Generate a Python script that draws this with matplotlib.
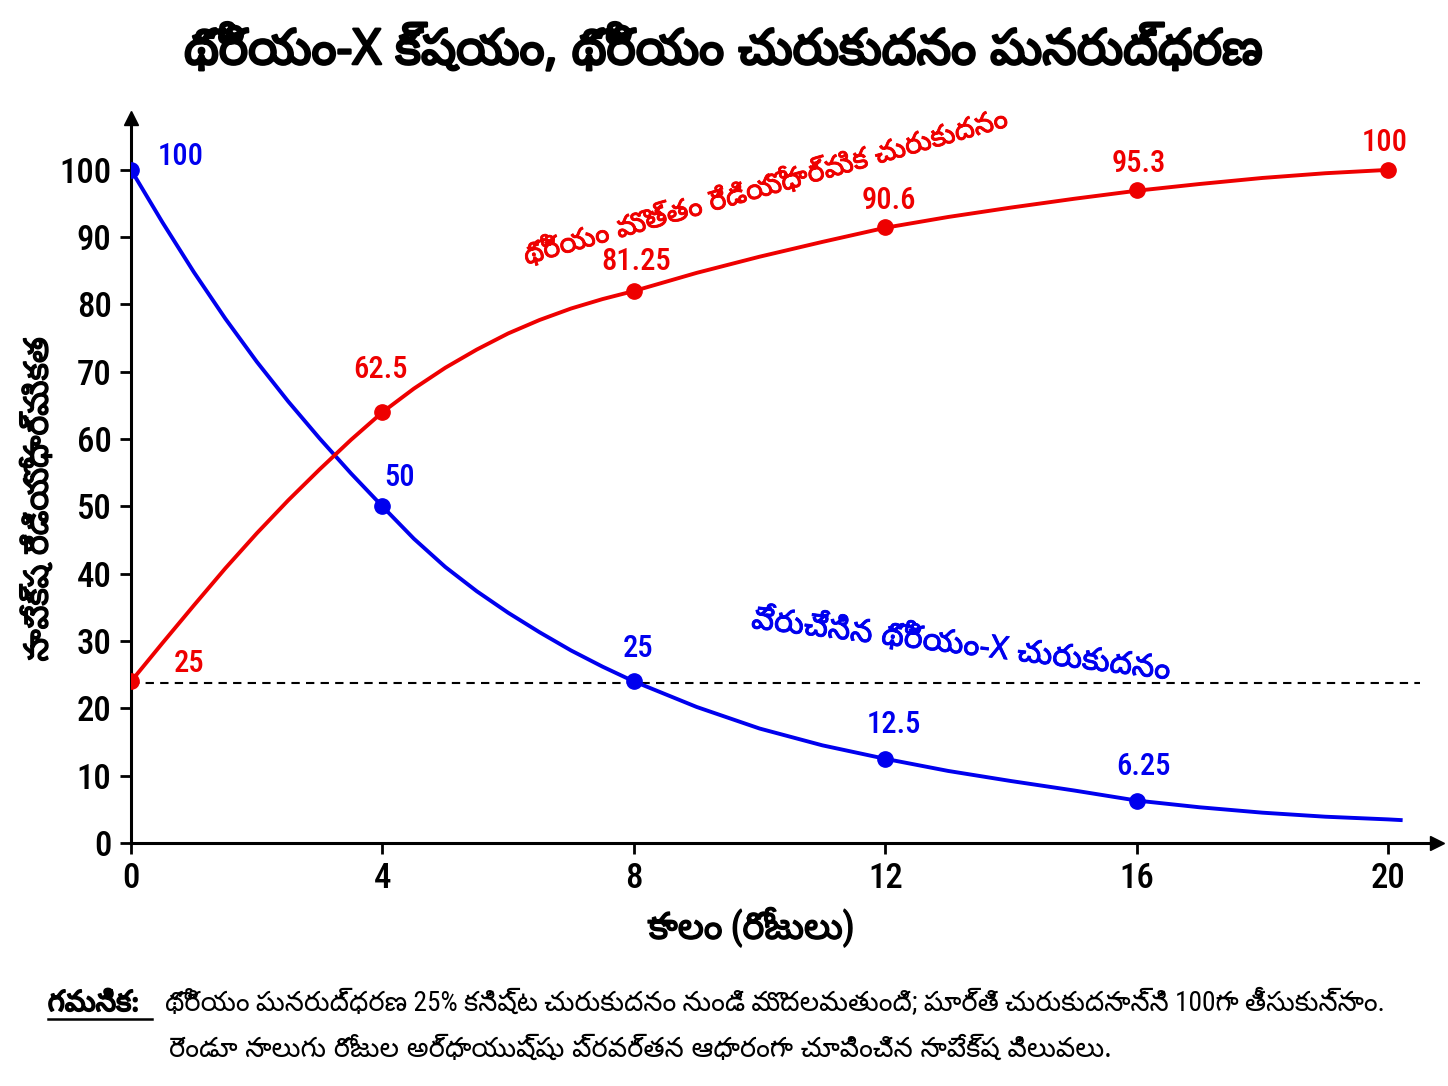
import matplotlib
matplotlib.use("Agg")
import matplotlib.pyplot as plt
import matplotlib.patheffects as pe
from matplotlib import font_manager

# data
days = [0, 4, 8, 12, 16, 20]
thx_marks = [100, 50, 24, 12.5, 6.3]          # blue markers (day 0..16)
thx_labels = ["100", "50", "25", "12.5", "6.25"]
th_marks = [24, 64, 82, 91.5, 97, 100]        # red markers
th_labels = ["25", "62.5", "81.25", "90.6", "95.3", "100"]

# curves: half-day readings to day 8, then daily
curve_days = [0, 0.5, 1, 1.5, 2, 2.5, 3, 3.5, 4, 4.5, 5, 5.5, 6, 6.5, 7, 7.5, 8,
              9, 10, 11, 12, 13, 14, 15, 16, 17, 18, 19, 20]
thx_curve = [100, 92.2, 84.8, 77.9, 71.5, 65.6, 60.1, 54.9, 50, 45.2, 41, 37.4,
             34.2, 31.3, 28.6, 26.2, 24, 20.2, 17, 14.5, 12.5, 10.7, 9.2, 7.8,
             6.3, 5.3, 4.5, 3.9, 3.5]
th_curve = [24, 29.7, 35.3, 40.8, 46, 50.9, 55.5, 59.9, 64, 67.5, 70.6, 73.3,
            75.7, 77.7, 79.4, 80.8, 82, 84.7, 87.1, 89.3, 91.4, 93, 94.4, 95.7,
            96.9, 97.9, 98.8, 99.5, 100]
thx_tail = [20, 20.2]
thx_tail_vals = [3.5, 3.4]
min_level = 23.7

title = "థోరియం-X క్షయం, థోరియం చురుకుదనం పునరుద్ధరణ"
xlab = "కాలం (రోజులు)"
ylab = "సాపేక్ష రేడియోధార్మికత"
red_name = "థోరియం మొత్తం రేడియోధార్మిక చురుకుదనం"
blue_name = "వేరుచేసిన థోరియం-X చురుకుదనం"
note_head = "గమనిక:"
note_1 = "థోరియం పునరుద్ధరణ 25% కనిష్ట చురుకుదనం నుండి మొదలవుతుంది; పూర్తి చురుకుదనాన్ని 100గా తీసుకున్నాం."
note_2 = "రెండూ నాలుగు రోజుల అర్ధాయుష్షు ప్రవర్తన ఆధారంగా చూపించిన సాపేక్ష విలువలు."

installed = {f.name for f in font_manager.fontManager.ttflist}
num_font = "Roboto Condensed" if "Roboto Condensed" in installed else "DejaVu Sans"
tel = ["Noto Sans Telugu", "DejaVu Sans"]
plt.rcParams["font.family"] = [num_font, "Noto Sans Telugu", "DejaVu Sans"]

RED = "#ee0000"
BLUE = "#0000ee"


def heavy(c, w=1.2):
    # fake bold, the Telugu font has only one weight here
    return [pe.withStroke(linewidth=w, foreground=c)]


fig = plt.figure(figsize=(14.48, 10.86), dpi=100)
ax = fig.add_axes([0.0905, 0.2238, 0.902, 0.6675])

ax.plot(curve_days + thx_tail[1:], thx_curve + thx_tail_vals[1:], color=BLUE,
        lw=2.8, zorder=3, solid_joinstyle="round")
ax.plot(curve_days, th_curve, color=RED, lw=2.8, zorder=3, solid_joinstyle="round")
ax.plot(days[:5], thx_marks, "o", color=BLUE, ms=11, zorder=4)
ax.plot(days, th_marks, "o", color=RED, ms=11, zorder=4)
ax.plot([0, 20.5], [min_level, min_level], ls=(0, (4, 3)), color="black", lw=1.5, zorder=2)

blue_off = [(50, 13), (17, 29), (4, 33), (9, 34), (7, 34)]
red_off = [(58, 18), (-2, 43), (2, 30), (4, 27), (2, 27), (-3, 27)]
for x, y, s, o in zip(days, thx_marks, thx_labels, blue_off):
    ax.annotate(s, (x, y), xytext=o, textcoords="offset pixels", ha="center",
                va="center", color=BLUE, fontsize=22, fontweight="medium")
for x, y, s, o in zip(days, th_marks, th_labels, red_off):
    ax.annotate(s, (x, y), xytext=o, textcoords="offset pixels", ha="center",
                va="center", color=RED, fontsize=22, fontweight="medium")

ax.text(10.1, 97.3, red_name, color=RED, fontsize=20.5, family=tel,
        rotation=16, ha="center", va="center", path_effects=heavy(RED, 0.6))
ax.text(13.2, 29.4, blue_name, color=BLUE, fontsize=23, family=tel,
        rotation=-7, ha="center", va="center", path_effects=heavy(BLUE, 0.6))

ax.set_xlim(0, 20.78)
ax.set_ylim(0, 107.7)
ax.set_xticks(days)
ax.set_yticks(range(0, 101, 10))
ax.tick_params(labelsize=25, length=8, width=2, pad=6)
for lab in ax.get_xticklabels() + ax.get_yticklabels():
    lab.set_fontweight("medium")
for side in ["top", "right"]:
    ax.spines[side].set_visible(False)
for side in ["left", "bottom"]:
    ax.spines[side].set_linewidth(2.2)
ax.plot(1, 0, ">k", ms=10, transform=ax.get_yaxis_transform(), clip_on=False)
ax.plot(0, 1, "^k", ms=10, transform=ax.get_xaxis_transform(), clip_on=False)

fig.text(0.519, 0.146, xlab, ha="center", va="center", fontsize=26.5,
         family=[num_font] + tel, path_effects=heavy("black", 1.0))
fig.text(0.027, 0.54, ylab, ha="center", va="center", rotation=90,
         fontsize=24, family=tel, path_effects=heavy("black", 1.0))

fig.text(0.5, 0.953, title, ha="center", va="center", fontsize=35.5,
         family=tel, path_effects=heavy("black", 1.8))
fig.text(0.033, 0.076, note_head, fontsize=21, family=tel, va="center",
         path_effects=heavy("black", 1.2))
fig.add_artist(plt.Line2D([0.033, 0.105], [0.0615, 0.0615], color="black", lw=1.8))
fig.text(0.114, 0.076, note_1, fontsize=19.7, family=[num_font] + tel, va="center")
fig.text(0.117, 0.033, note_2, fontsize=19.7, family=tel, va="center")

fig.savefig("out.png", dpi=100)
